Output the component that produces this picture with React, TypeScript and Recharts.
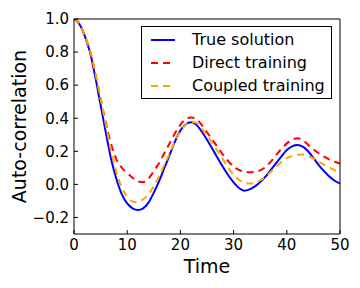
import React from 'react';
import { LineChart, Line, XAxis, YAxis, Legend } from 'recharts';

// time axis, 0..50
const time = Array.from({ length: 51 }, (_, i) => i);

const trueSolution = [
    1.0, 0.97, 0.9, 0.8, 0.65, 0.48, 0.31, 0.15, 0.03, -0.06,
    -0.115, -0.145, -0.155, -0.145, -0.11, -0.05, 0.02, 0.1, 0.18, 0.26,
    0.325, 0.362, 0.375, 0.36, 0.32, 0.27, 0.215, 0.16, 0.105, 0.055,
    0.012, -0.022, -0.038, -0.03, -0.012, 0.015, 0.047, 0.088, 0.128, 0.17,
    0.208, 0.23, 0.238, 0.228, 0.2, 0.16, 0.117, 0.08, 0.047, 0.022,
    0.005,
];

const directTraining = [
    1.0, 0.975, 0.9, 0.81, 0.67, 0.52, 0.37, 0.24, 0.15, 0.1,
    0.07, 0.04, 0.018, 0.013, 0.035, 0.08, 0.13, 0.19, 0.25, 0.31,
    0.36, 0.395, 0.405, 0.395, 0.36, 0.315, 0.27, 0.225, 0.18, 0.14,
    0.107, 0.088, 0.077, 0.073, 0.076, 0.085, 0.105, 0.138, 0.178, 0.215,
    0.248, 0.27, 0.279, 0.268, 0.24, 0.212, 0.188, 0.168, 0.15, 0.137,
    0.126,
];

const coupledTraining = [
    1.0, 0.975, 0.9, 0.81, 0.68, 0.52, 0.36, 0.2, 0.07, -0.02,
    -0.075, -0.103, -0.107, -0.09, -0.06, -0.01, 0.05, 0.12, 0.19, 0.26,
    0.32, 0.36, 0.378, 0.372, 0.338, 0.295, 0.25, 0.2, 0.15, 0.1,
    0.057, 0.028, 0.01, 0.005, 0.008, 0.025, 0.047, 0.077, 0.107, 0.135,
    0.158, 0.172, 0.179, 0.18, 0.172, 0.157, 0.137, 0.12, 0.103, 0.085,
    0.067,
];

const xTicks = [0, 10, 20, 30, 40, 50];
const yTicks = [-0.2, 0.0, 0.2, 0.4, 0.6, 0.8, 1.0];

const series = [
    { key: 'trueSolution', name: 'True solution', color: '#0000ff', dash: undefined },
    { key: 'directTraining', name: 'Direct training', color: '#ff0000', dash: '7 5' },
    { key: 'coupledTraining', name: 'Coupled training', color: '#ffa500', dash: '7 5' },
];

const data = time.map((t, i) => ({
    t,
    trueSolution: trueSolution[i],
    directTraining: directTraining[i],
    coupledTraining: coupledTraining[i],
}));

const font = '"DejaVu Sans", sans-serif';

const formatY = (v: number) => v.toFixed(1).replace('-', '\u2212');

const LegendBox = () => (
    <div style={{ border: '1px solid #000', background: '#fff', padding: '1px 0', width: 189, fontFamily: font, fontSize: 16 }}>
        {series.map(s => (
            <div key={s.key} style={{ display: 'flex', alignItems: 'center', height: 23 }}>
                <svg width={24} height={4} style={{ marginLeft: 9, marginRight: 17 }}>
                    <line x1={0} x2={24} y1={2} y2={2} stroke={s.color} strokeWidth={2} strokeDasharray={s.dash} />
                </svg>
                <span style={{ color: '#000', whiteSpace: 'nowrap' }}>{s.name}</span>
            </div>
        ))}
    </div>
);

const App: React.FC = () => {
    const tickStyle = { fill: '#000', fontSize: 15, fontFamily: font };
    return (
        <div style={{ position: 'absolute', left: 0, top: 0, width: 360, height: 288, background: '#fff' }}>
            <LineChart width={360} height={288} data={data} margin={{ top: 18, right: 19, bottom: 0, left: 0 }}>
                <XAxis
                    dataKey="t"
                    type="number"
                    domain={[0, 50]}
                    ticks={xTicks}
                    height={54}
                    tickSize={-4}
                    tickMargin={9}
                    stroke="#000"
                    tick={tickStyle}
                    label={{ value: 'Time', position: 'insideBottom', offset: 15, style: { fill: '#000', fontSize: 19, fontFamily: font } }}
                />
                {/* frame: top and right axes with inward ticks, no labels */}
                <XAxis xAxisId="top" orientation="top" type="number" domain={[0, 50]} ticks={xTicks} height={1} tickSize={-4} tick={false} stroke="#000" />
                <YAxis
                    type="number"
                    domain={[-0.3, 1.0]}
                    ticks={yTicks}
                    width={74}
                    tickSize={-4}
                    tickMargin={9}
                    stroke="#000"
                    tick={tickStyle}
                    tickFormatter={formatY}
                    allowDataOverflow
                    label={{ value: 'Auto-correlation', angle: -90, position: 'insideLeft', offset: 19, style: { textAnchor: 'middle', fill: '#000', fontSize: 19, fontFamily: font } }}
                />
                <YAxis yAxisId="right" orientation="right" type="number" domain={[-0.3, 1.0]} ticks={yTicks} width={1} tickSize={-4} tick={false} stroke="#000" />
                <Legend
                    layout="vertical"
                    align="center"
                    verticalAlign="middle"
                    wrapperStyle={{ left: 141, top: 26, width: 'auto' }}
                    content={() => <LegendBox />}
                />
                {series.map(s => (
                    <Line
                        key={s.key}
                        type="monotone"
                        dataKey={s.key}
                        name={s.name}
                        stroke={s.color}
                        strokeWidth={2}
                        strokeDasharray={s.dash}
                        dot={false}
                        isAnimationActive={false}
                    />
                ))}
            </LineChart>
        </div>
    );
};

export default App;
